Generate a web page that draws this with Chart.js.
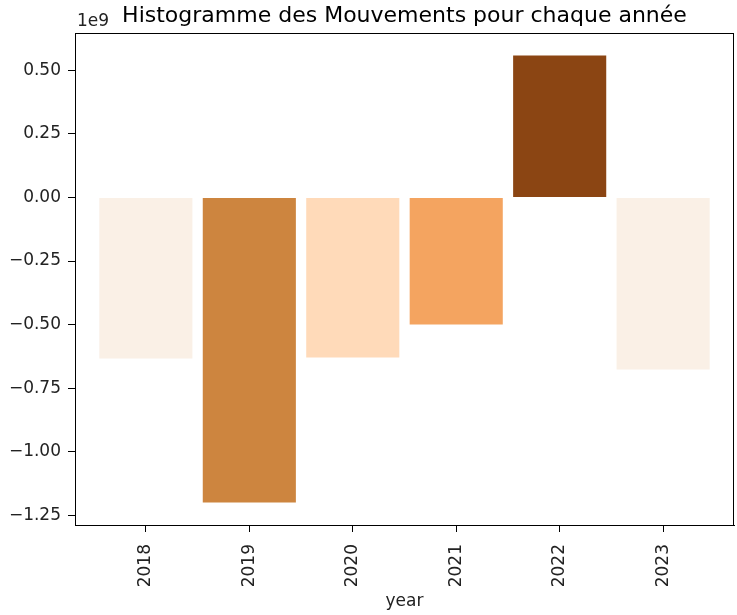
<!DOCTYPE html>
<html>
<head>
<meta charset="utf-8">
<script src="https://cdn.jsdelivr.net/npm/chart.js@4/dist/chart.umd.min.js"></script>
<style>
html,body{margin:0;padding:0;background:#fff;}
#wrap{width:737px;height:615px;position:relative;}
</style>
</head>
<body>
<div id="wrap"><canvas id="c"></canvas></div>
<script>
const years = ["2018", "2019", "2020", "2021", "2022", "2023"];
const mouvements = [-0.633e9, -1.199e9, -0.629e9, -0.499e9, 0.558e9, -0.676e9];
const barColors = ["#FAF0E6", "#CD853F", "#FFDAB9", "#F4A460", "#8B4513", "#FAF0E6"];
const yTicks = [-1.25e9, -1.0e9, -0.75e9, -0.5e9, -0.25e9, 0, 0.25e9, 0.5e9];
const titleText = "Histogramme des Mouvements pour chaque année";
const xTitle = "year";
const offsetText = "1e9";

const FONT = "'DejaVu Sans', sans-serif";

const framePlugin = {
  id: 'frame',
  afterDraw(chart) {
    const {ctx, chartArea: a} = chart;
    ctx.save();
    ctx.strokeStyle = '#000';
    ctx.lineWidth = 1;
    ctx.strokeRect(Math.round(a.left) + 0.5, Math.round(a.top) + 0.5,
                   Math.round(a.right - a.left) - 1, Math.round(a.bottom - a.top));
    ctx.fillStyle = '#222';
    ctx.font = "17px " + FONT;
    ctx.textAlign = 'left';
    ctx.textBaseline = 'alphabetic';
    ctx.fillText(offsetText, a.left + 2, a.top - 7);
    ctx.restore();
  }
};

new Chart(document.getElementById('c'), {
  type: 'bar',
  data: {
    datasets: [{
      data: years.map((y, i) => ({x: i, y: mouvements[i]})),
      backgroundColor: barColors,
      borderWidth: 0,
      barPercentage: 0.9,
      categoryPercentage: 1.0
    }]
  },
  options: {
    responsive: true,
    maintainAspectRatio: false,
    animation: false,
    layout: {padding: {left: 0, right: 3, top: 0, bottom: 0}},
    plugins: {
      legend: {display: false},
      tooltip: {enabled: false},
      title: {
        display: true,
        fullSize: false,
        text: titleText,
        color: '#000',
        font: {family: FONT, size: 22, weight: 'normal', lineHeight: 1.2},
        padding: {top: 3, bottom: 3.6}
      }
    },
    scales: {
      x: {
        type: 'linear',
        min: -0.685,
        max: 5.685,
        offset: false,
        afterBuildTicks(scale) {
          scale.ticks = years.map((y, i) => ({value: i}));
        },
        afterFit(scale) { scale.height = 90; },
        ticks: {
          color: '#222',
          font: {family: FONT, size: 17},
          minRotation: 90,
          maxRotation: 90,
          padding: 12,
          callback: (v) => years[v] !== undefined ? years[v] : ''
        },
        grid: {display: true, offset: false, drawOnChartArea: false, tickLength: 7, color: '#000'},
        border: {display: true, color: '#000', width: 1},
        title: {
          display: true,
          text: xTitle,
          color: '#222',
          font: {family: FONT, size: 17},
          padding: {top: 0, bottom: 3}
        }
      },
      y: {
        min: -1.287e9,
        max: 0.646e9,
        afterBuildTicks(scale) {
          scale.ticks = yTicks.map(v => ({value: v}));
        },
        afterFit(scale) { scale.width = 75; },
        ticks: {
          color: '#222',
          font: {family: FONT, size: 17},
          padding: 7,
          callback: (v) => {
            const s = (Math.abs(v) / 1e9).toFixed(2);
            return v < -1 ? '\u2212' + s : s;
          }
        },
        grid: {display: true, drawOnChartArea: false, tickLength: 7, color: '#000'},
        border: {display: true, color: '#000', width: 1}
      }
    }
  },
  plugins: [framePlugin]
});
</script>
</body>
</html>
